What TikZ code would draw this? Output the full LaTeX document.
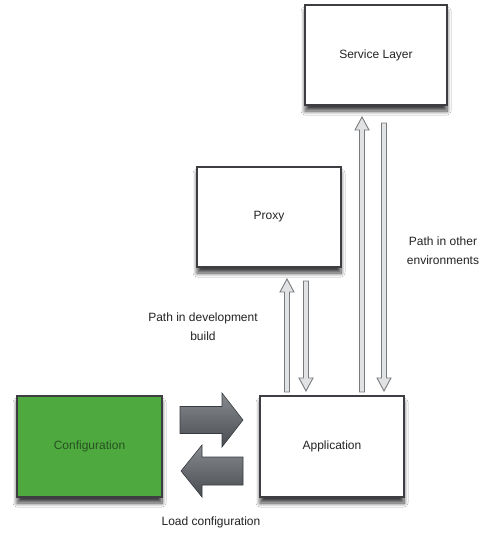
\documentclass[tikz,border=0pt]{standalone}
\usepackage{fontspec}
\setmainfont{Liberation Sans}
\usetikzlibrary{calc,shadows,shadows.blur}
\definecolor{boxline}{RGB}{60,62,65}
\definecolor{cfggreen}{RGB}{78,170,62}
\definecolor{cfgtext}{RGB}{40,80,35}
\definecolor{txt}{RGB}{35,35,38}
\definecolor{thinline}{RGB}{120,123,126}
\definecolor{thinfill}{RGB}{225,226,227}
\definecolor{fattop}{RGB}{135,138,142}
\definecolor{fatbot}{RGB}{72,75,79}
\definecolor{fatline}{RGB}{55,58,62}
\newcommand\blockarr[6]{%
  \draw[#6] let \p1=(#1), \p2=(#2), \n1={atan2(\y2-\y1,\x2-\x1)},
    \n2={veclen(\x2-\x1,\y2-\y1)} in
    [shift={(\p1)}, rotate=\n1]
    (0,-#3) -- (\n2-#5,-#3) -- (\n2-#5,-#4) -- (\n2,0) -- (\n2-#5,#4)
    -- (\n2-#5,#3) -- (0,#3) -- cycle;}
\tikzset{
  box/.style={draw=boxline, line width=1.3pt, fill=white, rectangle,
    font=\fontsize{12}{14}\selectfont, text=txt,
    blur shadow={shadow xshift=0pt, shadow yshift=-6pt, shadow blur radius=4pt, shadow blur steps=8, shadow opacity=75}},
  thinarr/.style={draw=thinline, line width=0.9pt, fill=thinfill, line join=miter},
  fatarr/.style={draw=fatline, line width=0.6pt, top color=fattop, bottom color=fatbot, line join=miter},
  lbl/.style={font=\fontsize{12}{19}\selectfont, text=txt, align=center}
}
\begin{document}
\begin{tikzpicture}[x=1pt,y=-1pt]
\useasboundingbox (0,0) rectangle (482,533);
\fill[white] (0,0) rectangle (482,533);
\node[box, minimum width=142pt, minimum height=100pt] (svc) at (376,55) {Service Layer};
\node[box, minimum width=144pt, minimum height=100pt] (proxy) at (269,217) {Proxy};
\node[box, fill=cfggreen, text=cfgtext, minimum width=145pt, minimum height=101pt] (cfg) at (89.5,446.5) {Configuration};
\node[box, minimum width=144pt, minimum height=101pt] (app) at (332,446.5) {Application};
% connector end points
\coordinate (devupS) at (287,392);
\coordinate (devupE) at (287,279);
\coordinate (devdnS) at (306,281);
\coordinate (devdnE) at (306,391);
\coordinate (envupS) at (362,392);
\coordinate (envupE) at (362,117);
\coordinate (envdnS) at (384,123);
\coordinate (envdnE) at (384,391);
\coordinate (ldS) at (180,420);
\coordinate (ldE) at (243,420);
\coordinate (rtS) at (243,471);
\coordinate (rtE) at (181,471);
\blockarr{devupS}{devupE}{2.5}{7}{13}{thinarr}
\blockarr{devdnS}{devdnE}{2.5}{7}{13}{thinarr}
\blockarr{envupS}{envupE}{2.5}{7}{13}{thinarr}
\blockarr{envdnS}{envdnE}{2.5}{7}{13}{thinarr}
\blockarr{ldS}{ldE}{13.5}{27}{21}{fatarr}
\blockarr{rtS}{rtE}{14}{26}{21}{fatarr}
\node[lbl] (devlbl) at (203,327) {Path in development\\build};
\node[lbl] (envlbl) at (443,251) {Path in other\\environments};
\node[lbl] (loadlbl) at (211,522) {Load configuration};
\end{tikzpicture}
\end{document}
